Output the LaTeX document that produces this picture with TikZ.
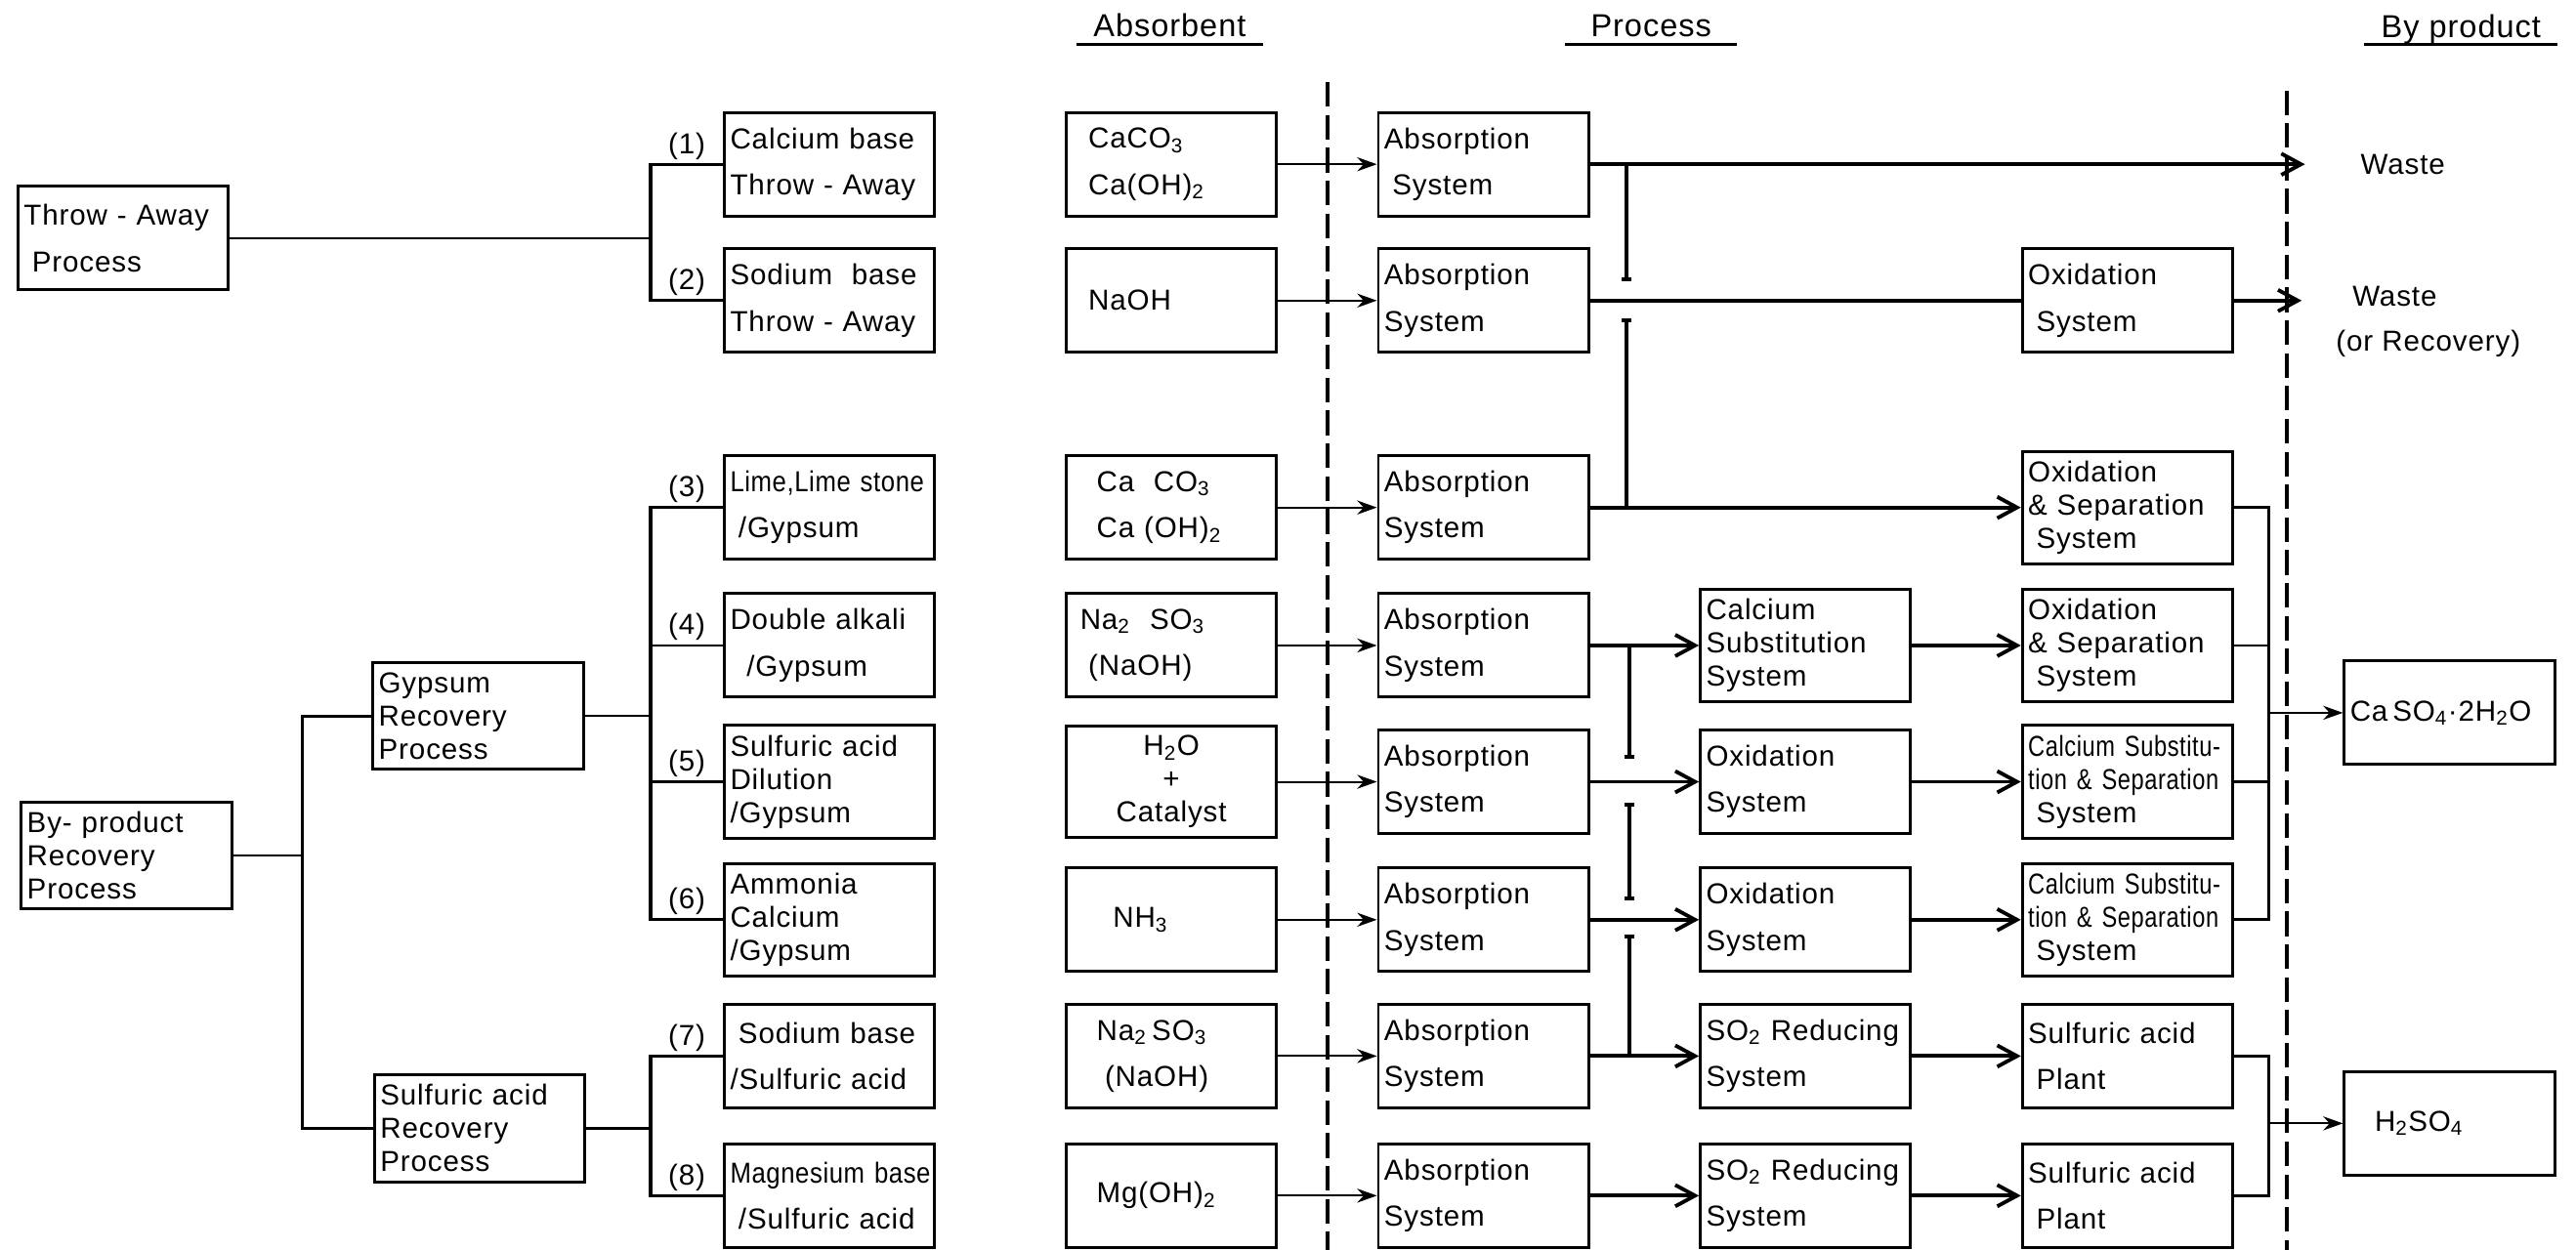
\documentclass[tikz,border=0pt]{standalone}
\usepackage{fontspec}
\setmainfont{Liberation Sans}[LetterSpace=3]
\newfontfamily\narrowfont{Liberation Sans}[FakeStretch=0.8,LetterSpace=2]
\newfontfamily\semifont{Liberation Sans}[FakeStretch=0.87,LetterSpace=2]
\usetikzlibrary{arrows.meta,calc}

\begin{document}
\begin{tikzpicture}[
  x=0.2mm, y=-0.2mm,
  box/.style={draw, line width=1pt, text width=24.2mm, inner xsep=2pt,
              minimum height=12.6mm, align=left,
              font=\fontsize{10}{11.5}\selectfont},
  box2/.style={box, font=\fontsize{10}{16}\selectfont},
  tag/.style={font=\fontsize{10}{12}\selectfont, inner sep=1.5pt},
  colhead/.style={anchor=base, inner xsep=0pt,
                  font=\fontsize{11}{13}\selectfont},
  link/.style={line width=0.8pt},
  rail/.style={line width=1.1pt},
  feed/.style={line width=0.7pt, -{Stealth[length=2.4mm,width=1.7mm]}},
  flow/.style={line width=1.3pt, -{Straight Barb[length=2.4mm,width=2.6mm]}},
  jump/.style={line width=1.3pt},
  divider/.style={line width=1.3pt, dash pattern=on 3mm off 1mm}
]
\useasboundingbox (0,0) rectangle (1568,761);

% column heads
\node[colhead, minimum width=22.6mm] (hab) at (712,22) {Absorbent};
\node[colhead, minimum width=20.8mm] (hpr) at (1005,22) {Process};
\node[colhead, minimum width=23.4mm] (hby) at (1498,23) {By product};
\draw[link] ($(hab.base west)+(0,5)$) -- ($(hab.base east)+(0,5)$);
\draw[link] ($(hpr.base west)+(0,5)$) -- ($(hpr.base east)+(0,5)$);
\draw[link] ($(hby.base west)+(0,4)$) -- ($(hby.base east)+(0,4)$);

\draw[divider] (808,50) -- (808,761);
\draw[divider] (1392,55) -- (1392,761);

% process classes
\node[box2] (tap) at (75,145) {Throw - Away\\\hspace*{1mm}Process};
\node[box] (byp) at (77,521) {By- product\\Recovery\\Process};
\node[box] (gyp) at (291,436) {Gypsum\\Recovery\\Process};
\node[box] (sul) at (292,687) {Sulfuric acid\\Recovery\\Process};

\node[box2] (t1) at (505,100) {Calcium base\\Throw - Away};
\node[box2] (t2) at (505,183) {Sodium\ \ base\\Throw - Away};
\node[box2] (t3) at (505,309) {{\semifont\mbox{Lime,Lime stone}}\\\hspace*{1mm}/Gypsum};
\node[box2] (t4) at (505,393) {Double alkali\\\hspace*{2mm}/Gypsum};
\node[box] (t5) at (505,476) {Sulfuric acid\\Dilution\\/Gypsum};
\node[box] (t6) at (505,560) {Ammonia\\Calcium\\/Gypsum};
\node[box2] (t7) at (505,643) {\hspace*{1mm}Sodium base\\/Sulfuric acid};
\node[box2] (t8) at (505,728) {{\semifont\mbox{Magnesium base}}\\\hspace*{1mm}/Sulfuric acid};

% absorbents
\node[box2] (a1) at (713,100) {\hspace*{2mm}CaCO\textsubscript{3}\\\hspace*{2mm}Ca(OH)\textsubscript{2}};
\node[box] (a2) at (713,183) {\hspace*{2mm}NaOH};
\node[box2] (a3) at (713,309) {\hspace*{3mm}Ca\ \ CO\textsubscript{3}\\\hspace*{3mm}Ca\ (OH)\textsubscript{2}};
\node[box2] (a4) at (713,393) {\hspace*{1mm}Na\textsubscript{2}\ \ SO\textsubscript{3}\\\hspace*{2mm}(NaOH)};
\node[box, align=center] (a5) at (713,476) {H\textsubscript{2}O\\+\\Catalyst};
\node[box] (a6) at (713,560) {\hspace*{5mm}NH\textsubscript{3}};
\node[box2] (a7) at (713,643) {\hspace*{3mm}Na\textsubscript{2}\,SO\textsubscript{3}\\\hspace*{4mm}(NaOH)};
\node[box] (a8) at (713,728) {\hspace*{3mm}Mg(OH)\textsubscript{2}};

% absorption
\node[box2] (p1) at (903,100) {Absorption\\\hspace*{1mm}System};
\node[box2] (p2) at (903,183) {Absorption\\System};
\node[box2] (p3) at (903,309) {Absorption\\System};
\node[box2] (p4) at (903,393) {Absorption\\System};
\node[box2] (p5) at (903,476) {Absorption\\System};
\node[box2] (p6) at (903,560) {Absorption\\System};
\node[box2] (p7) at (903,643) {Absorption\\System};
\node[box2] (p8) at (903,728) {Absorption\\System};

% second stage
\node[box] (c4) at (1099,393) {Calcium\\Substitution\\System};
\node[box2] (c5) at (1099,476) {Oxidation\\System};
\node[box2] (c6) at (1099,560) {Oxidation\\System};
\node[box2] (c7) at (1099,643) {SO\textsubscript{2} Reducing\\System};
\node[box2] (c8) at (1099,728) {SO\textsubscript{2} Reducing\\System};

% third stage
\node[box2] (o2) at (1295,183) {Oxidation\\\hspace*{1mm}System};
\node[box] (s3) at (1295,309) {Oxidation\\\& Separation\\\hspace*{1mm}System};
\node[box] (s4) at (1295,393) {Oxidation\\\& Separation\\\hspace*{1mm}System};
\node[box] (s5) at (1295,476) {{\narrowfont Calcium Substitu-}\\{\narrowfont tion \& Separation}\\\hspace*{1mm}System};
\node[box] (s6) at (1295,560) {{\narrowfont Calcium Substitu-}\\{\narrowfont tion \& Separation}\\\hspace*{1mm}System};
\node[box2] (s7) at (1295,643) {Sulfuric acid\\\hspace*{1mm}Plant};
\node[box2] (s8) at (1295,728) {Sulfuric acid\\\hspace*{1mm}Plant};

% by products
\node[tag, anchor=west] (w1) at (1434,100) {Waste};
\node[tag, anchor=west, align=left, font=\fontsize{10}{15.5}\selectfont] (w2) at (1419,196) {\hspace*{2mm}Waste\\(or Recovery)};
\node[box] (gyps) at (1491,434) {Ca\,SO\textsubscript{4}·2H\textsubscript{2}O};
\node[box] (hso) at (1491,684) {\hspace*{3mm}H\textsubscript{2}SO\textsubscript{4}};

\coordinate (ja) at (396,0);
\coordinate (jb) at (184,0);
\coordinate (k1) at (990,0);
\coordinate (k2) at (992,0);
\coordinate (kc) at (1381,0);
\coordinate (e1) at (1403,100);
\coordinate (e2) at (1401,183);

% tree on the left
\draw[link] (tap.east) -- (tap.east -| ja);
\draw[rail] (t1.west) -- (t1.west -| ja) -- (t2.west -| ja) -- (t2.west);
\draw[link] (gyp.east) -- (gyp.east -| ja);
\draw[rail] (t3.west) -- (t3.west -| ja) -- (t6.west -| ja) -- (t6.west);
\draw[link] (t4.west) -- (t4.west -| ja);
\draw[link] (t5.west) -- (t5.west -| ja);
\draw[link] (sul.east) -- (sul.east -| ja);
\draw[rail] (t7.west) -- (t7.west -| ja) -- (t8.west -| ja) -- (t8.west);
\draw[link] (byp.east) -- (byp.east -| jb);
\draw[rail] (gyp.west) -- (gyp.west -| jb) -- (sul.west -| jb) -- (sul.west);

\path (t1.west -| ja) -- node[tag, above] (n1) {(1)} (t1.west);
\path (t2.west -| ja) -- node[tag, above] (n2) {(2)} (t2.west);
\path (t3.west -| ja) -- node[tag, above] (n3) {(3)} (t3.west);
\path (t4.west -| ja) -- node[tag, above] (n4) {(4)} (t4.west);
\path (t5.west -| ja) -- node[tag, above] (n5) {(5)} (t5.west);
\path (t6.west -| ja) -- node[tag, above] (n6) {(6)} (t6.west);
\path (t7.west -| ja) -- node[tag, above] (n7) {(7)} (t7.west);
\path (t8.west -| ja) -- node[tag, above] (n8) {(8)} (t8.west);

% absorbent feeds
\draw[feed] (a1.east) -- (p1.west);
\draw[feed] (a2.east) -- (p2.west);
\draw[feed] (a3.east) -- (p3.west);
\draw[feed] (a4.east) -- (p4.west);
\draw[feed] (a5.east) -- (p5.west);
\draw[feed] (a6.east) -- (p6.west);
\draw[feed] (a7.east) -- (p7.west);
\draw[feed] (a8.east) -- (p8.west);

% process streams
\draw[flow] (p1.east) -- (e1);
\draw[jump] (p2.east) -- (o2.west);
\draw[flow] (o2.east) -- (e2);
\draw[flow] (p3.east) -- (s3.west);
\draw[jump, -{Bar[width=1.2mm]}] (p1.east -| k1) -- ($(p2.east -| k1)+(0,-12)$);
\draw[jump, {Bar[width=1.2mm]}-] ($(p2.east -| k1)+(0,11)$) -- (p3.east -| k1);

\draw[flow] (p4.east) -- (c4.west);
\draw[flow] (c4.east) -- (s4.west);
\draw[flow] (p5.east) -- (c5.west);
\draw[flow] (c5.east) -- (s5.west);
\draw[flow] (p6.east) -- (c6.west);
\draw[flow] (c6.east) -- (s6.west);
\draw[flow] (p7.east) -- (c7.west);
\draw[flow] (c7.east) -- (s7.west);
\draw[flow] (p8.east) -- (c8.west);
\draw[flow] (c8.east) -- (s8.west);
\draw[jump, -{Bar[width=1.2mm]}] (p4.east -| k2) -- ($(p5.east -| k2)+(0,-14)$);
\draw[jump, {Bar[width=1.2mm]}-{Bar[width=1.2mm]}] ($(p5.east -| k2)+(0,13)$) -- ($(p6.east -| k2)+(0,-12)$);
\draw[jump, {Bar[width=1.2mm]}-] ($(p6.east -| k2)+(0,9)$) -- (p7.east -| k2);

% collectors
\draw[link] (s4.east) -- (s4.east -| kc);
\draw[link] (s5.east) -- (s5.east -| kc);
\draw[rail] (s3.east) -- (s3.east -| kc) -- (s6.east -| kc) -- (s6.east);
\draw[feed] (gyps.west -| kc) -- (gyps.west);
\draw[rail] (s7.east) -- (s7.east -| kc) -- (s8.east -| kc) -- (s8.east);
\draw[feed] (hso.west -| kc) -- (hso.west);
\end{tikzpicture}
\end{document}
